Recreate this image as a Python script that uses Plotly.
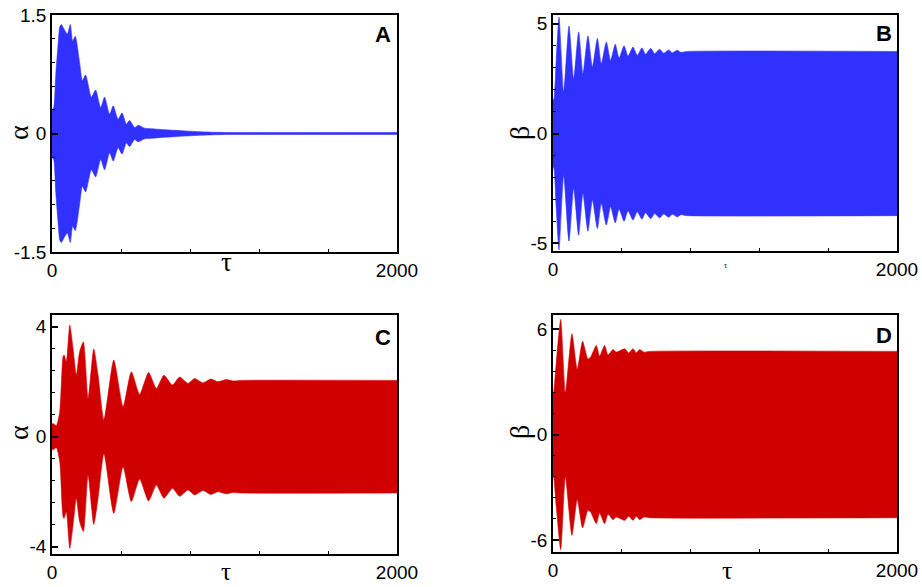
import plotly.graph_objects as go

# ---------------- data (envelopes) ----------------
# Panel A: alpha (blue), upper envelope; the band is symmetric about 0
tau_A = [0, 10, 22, 35, 45, 54, 70, 89, 106, 120, 135, 160, 176, 195, 228, 253,
         282, 305, 334, 355, 383, 406, 431, 450, 479, 499, 537, 581, 634, 711,
         769, 860, 955, 1050, 2000]
env_A = [0.30, 0.33, 0.75, 1.12, 1.35, 1.38, 1.32, 1.26, 1.38, 1.17, 1.23, 0.90,
         0.67, 0.74, 0.46, 0.55, 0.33, 0.46, 0.245, 0.35, 0.18, 0.26, 0.12,
         0.165, 0.076, 0.105, 0.067, 0.06, 0.05, 0.04, 0.033, 0.022, 0.015,
         0.012, 0.012]

# Panel B: beta (blue)
tau_B = [0, 6, 19, 35, 62, 93, 120, 149, 174, 203, 229, 258, 281, 310, 335, 362,
         384, 413, 436, 465, 490, 517, 538, 568, 591, 620, 643, 673, 694, 723,
         742, 780, 2000]
env_B = [1.5, 1.6, 3.4, 5.3, 1.9, 4.9, 2.5, 4.63, 2.72, 4.45, 3.03, 4.33, 3.18,
         4.17, 3.33, 4.07, 3.44, 4.0, 3.52, 3.94, 3.56, 3.90, 3.61, 3.88, 3.64,
         3.84, 3.66, 3.81, 3.68, 3.80, 3.70, 3.74, 3.74]

# Panel C: alpha (red)
tau_C = [0, 6, 25, 45, 64, 70, 83, 103, 122, 141, 160, 182, 209, 242, 267, 301,
         358, 412, 460, 508, 560, 605, 649, 698, 740, 788, 827, 875, 920, 962,
         1011, 1049, 1100, 2000]
env_C = [0.45, 0.48, 0.40, 0.91, 2.91, 2.97, 2.73, 4.06, 3.21, 2.24, 3.09, 3.45,
         1.39, 3.19, 2.24, 0.61, 2.79, 1.09, 2.36, 1.54, 2.34, 1.76, 2.24, 1.88,
         2.17, 1.94, 2.12, 1.96, 2.10, 2.0, 2.08, 2.03, 2.05, 2.05]

# Panel D: beta (red)
tau_D = [0, 4, 19, 45, 72, 110, 141, 172, 203, 218, 252, 271, 300, 320, 349, 368,
         417, 440, 465, 484, 504, 529, 560, 2000]
env_D = [2.3, 2.4, 4.1, 6.55, 2.4, 5.73, 3.70, 5.31, 4.30, 4.4, 5.07, 4.46, 5.07,
         4.53, 4.84, 4.69, 4.88, 4.64, 4.88, 4.65, 4.84, 4.69, 4.73, 4.73]

x_ticks = [0, 2000]
x_ticktext = ["0", "2000"]
yticks_A = [-1.5, 0, 1.5]; ytext_A = ["-1.5", "0", "1.5"]
yticks_B = [-5, 0, 5];     ytext_B = ["-5", "0", "5"]
yticks_C = [-4, 0, 4];     ytext_C = ["-4", "0", "4"]
yticks_D = [-6, 0, 6];     ytext_D = ["-6", "0", "6"]
panel_labels = ["A", "B", "C", "D"]
y_titles = ["α", "β", "α", "β"]
x_title = "τ"

BLUE = "#3131ff"
RED = "#d00000"

W, H = 922, 587
ML, MR, MT, MB = 52, 25, 15, 33
PW, PH = W - ML - MR, H - MT - MB


def px(x):
    return (x - ML) / PW


def py(y):
    return (H - MB - y) / PH


def band(t, amp, color, xa, ya):
    ln = dict(color=color, width=0.6, shape="spline", smoothing=0.6)
    up = go.Scatter(x=t, y=amp, mode="lines", line=ln, xaxis=xa, yaxis=ya,
                    hoverinfo="skip", showlegend=False)
    lo = go.Scatter(x=t, y=[-v for v in amp], mode="lines", line=ln, fill="tonexty",
                    fillcolor=color, xaxis=xa, yaxis=ya, hoverinfo="skip",
                    showlegend=False)
    return [up, lo]


fig = go.Figure()
fig.add_traces(band(tau_A, env_A, BLUE, "x", "y"))
fig.add_traces(band(tau_B, env_B, BLUE, "x2", "y2"))
fig.add_traces(band(tau_C, env_C, RED, "x3", "y3"))
fig.add_traces(band(tau_D, env_D, RED, "x4", "y4"))

tickfont = dict(family="Liberation Sans, Arial, sans-serif", size=19, color="black")


def xaxis(domain, anchor):
    return dict(domain=domain, anchor=anchor, range=[0, 2000], automargin=False,
                tickmode="array", tickvals=x_ticks, ticktext=x_ticktext,
                ticks="inside", ticklen=6, tickwidth=1.5, tickcolor="black",
                minor=dict(dtick=400, tick0=0, ticks="inside", ticklen=3,
                           tickwidth=1, tickcolor="black"),
                showline=True, linecolor="black", linewidth=1.5, mirror=True,
                showgrid=False, zeroline=False, tickfont=tickfont)


def yaxis(domain, anchor, rng, tv, tt, mdt):
    return dict(domain=domain, anchor=anchor, range=rng, automargin=False,
                tickmode="array", tickvals=tv, ticktext=tt,
                ticks="inside", ticklen=6, tickwidth=1.5, tickcolor="black",
                minor=dict(dtick=mdt, tick0=0, ticks="inside", ticklen=3,
                           tickwidth=1, tickcolor="black"),
                showline=True, linecolor="black", linewidth=1.5, mirror=True,
                showgrid=False, zeroline=False, tickfont=tickfont)


xl = [px(52), px(397)]
xr = [px(553), px(897)]
fig.update_layout(
    width=W, height=H,
    margin=dict(l=ML, r=MR, t=MT, b=MB, autoexpand=False),
    paper_bgcolor="white", plot_bgcolor="white",
    xaxis=xaxis(xl, "y"), yaxis=yaxis([py(252), py(15)], "x", [-1.5, 1.5], yticks_A, ytext_A, 0.3),
    xaxis2=xaxis(xr, "y2"), yaxis2=yaxis([py(251), py(15)], "x2", [-5.35, 5.4], yticks_B, ytext_B, 1),
    xaxis3=xaxis(xl, "y3"), yaxis3=yaxis([py(554), py(315)], "x3", [-4.27, 4.43], yticks_C, ytext_C, 0.8),
    xaxis4=xaxis(xr, "y4"), yaxis4=yaxis([py(552), py(315)], "x4", [-6.68, 6.8], yticks_D, ytext_D, 1.2),
)

serif = "Liberation Serif, Times New Roman, serif"
label_pos = [(383, 35), (884, 33), (383, 337), (884, 335)]
ytitle_pos = [(18, 133), (519, 133), (18, 433), (519, 432)]
xtitle_pos = [(226, 262), (726, 265), (226, 571), (727, 570)]
xt_sizes = [27, 8, 25, 26]
anns = []
for i in range(4):
    lx, ly = label_pos[i]
    anns.append(dict(text="<b>%s</b>" % panel_labels[i], xref="paper", yref="paper",
                     x=px(lx), y=py(ly), xanchor="center", yanchor="middle",
                     showarrow=False, font=dict(family="Liberation Sans, Arial", size=22, color="black")))
    ax_, ay_ = ytitle_pos[i]
    anns.append(dict(text=y_titles[i], xref="paper", yref="paper",
                     x=px(ax_), y=py(ay_), xanchor="center", yanchor="middle",
                     textangle=-90, showarrow=False,
                     font=dict(family=serif, size=28, color="black")))
    tx, ty = xtitle_pos[i]
    anns.append(dict(text=x_title, xref="paper", yref="paper",
                     x=px(tx), y=py(ty), xanchor="center", yanchor="middle",
                     showarrow=False,
                     font=dict(family=serif, size=xt_sizes[i], color="black")))
fig.update_layout(annotations=anns)

fig.write_html("out.html", config={"displayModeBar": False},
               post_script="document.body.style.margin='0';document.body.style.padding='0';"
                           "document.body.style.overflow='hidden';")
